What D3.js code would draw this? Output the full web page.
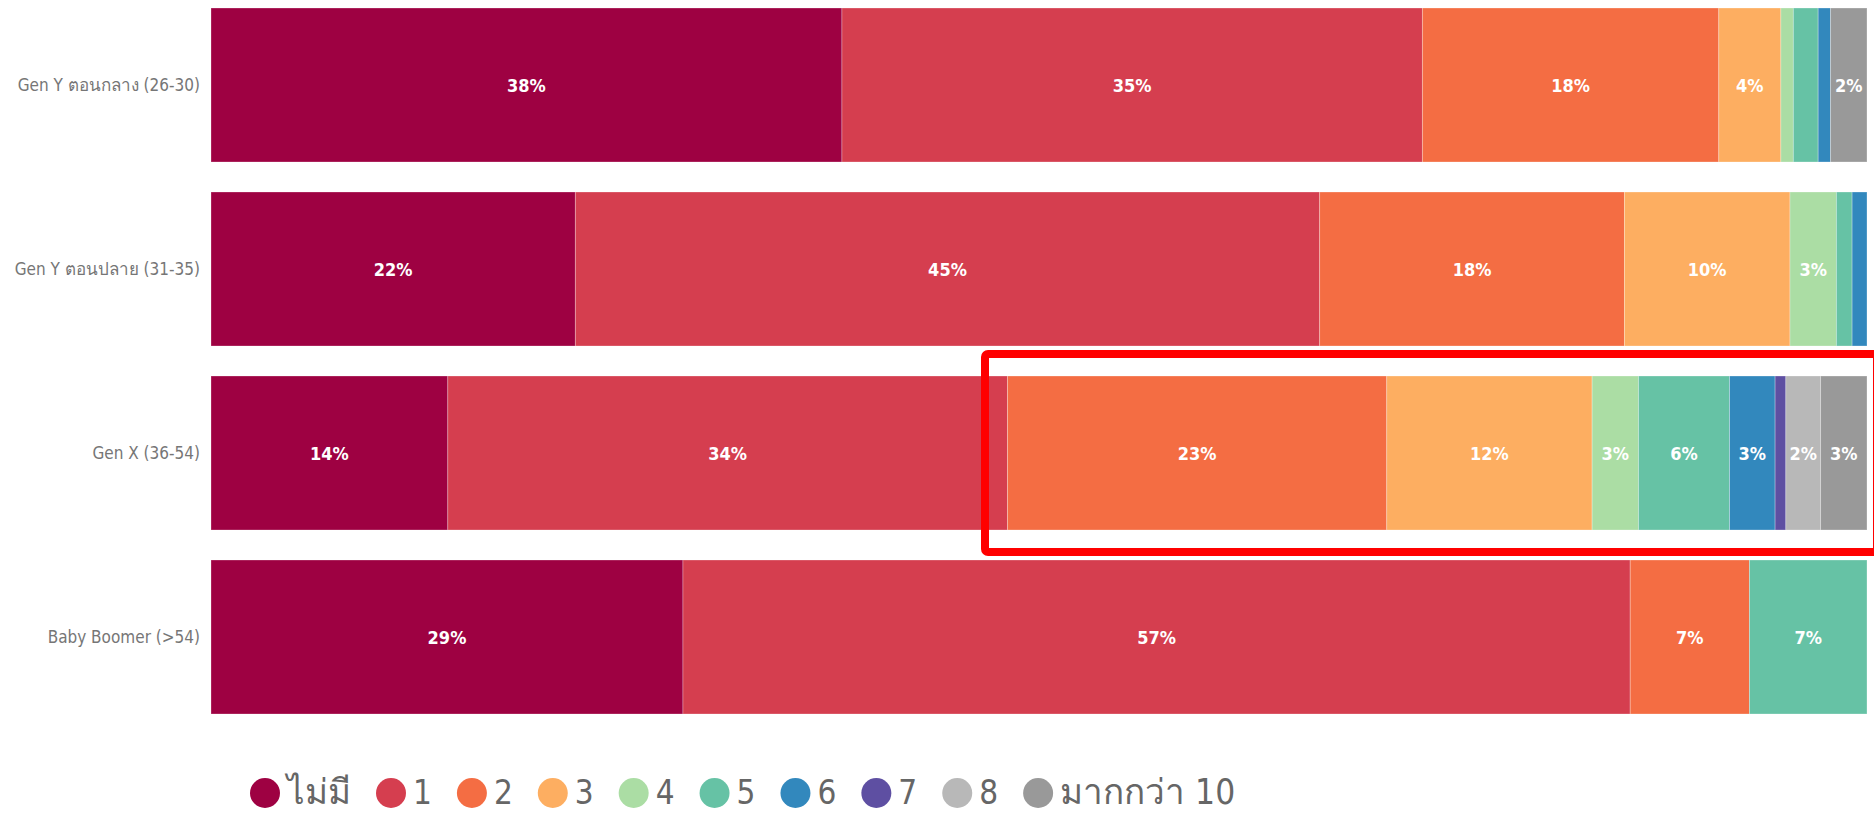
<!DOCTYPE html>
<html>
<head>
<meta charset="utf-8">
<script src="https://cdn.jsdelivr.net/npm/d3@7"></script>
<style>
  html, body { margin: 0; padding: 0; background: #fff; }
  svg { display: block; }
  .cat { font-family: "DejaVu Sans Condensed", "DejaVu Sans", sans-serif; font-size: 17px; fill: #767676; }
  .val { font-family: "DejaVu Sans Condensed", "DejaVu Sans", sans-serif; font-size: 18px; font-weight: bold; fill: #fff; }
  .leg { font-family: "DejaVu Sans Condensed", "DejaVu Sans", sans-serif; font-size: 33px; fill: #666; }
</style>
</head>
<body>
<svg id="chart" width="1874" height="815"></svg>
<script>
// Age groups (rows)
const categories = ["Gen Y ตอนกลาง (26-30)", "Gen Y ตอนปลาย (31-35)", "Gen X (36-54)", "Baby Boomer (>54)"];
// Series (legend order)
const seriesNames = ["ไม่มี", "1", "2", "3", "4", "5", "6", "7", "8", "มากกว่า 10"];
const seriesColors = ["#9e0142", "#d53e4f", "#f46d43", "#fdae61", "#abdda4", "#66c2a5", "#3288bd", "#5e4fa2", "#b8b8b8", "#999999"];
// Percent values per row, in series order
const genYMid  = [38.1, 35.05, 17.9, 3.75, 0.75, 1.5, 0.75, 0, 0, 2.2];
const genYLate = [22.0, 44.95, 18.4, 10.0, 2.8, 0.95, 0.9, 0, 0, 0];
const genX     = [14.3, 33.8, 22.9, 12.4, 2.8, 5.5, 2.75, 0.65, 2.1, 2.8];
const boomer   = [28.5, 57.2, 7.2, 0, 0, 7.1, 0, 0, 0, 0];
const rows = [genYMid, genYLate, genX, boomer];

const svg = d3.select("#chart");
const x = d3.scaleLinear().domain([0, 100]).range([211, 1867]);
const y = d3.scaleBand().domain(categories).range([8, 714]).paddingInner(30 / 184).paddingOuter(0);
const color = d3.scaleOrdinal().domain(seriesNames).range(seriesColors);

// build stacked data
const table = categories.map((c, i) => {
  const o = { cat: c };
  seriesNames.forEach((s, j) => o[s] = rows[i][j]);
  return o;
});
const stacked = d3.stack().keys(seriesNames)(table);

const gBars = svg.append("g");
stacked.forEach(layer => {
  const key = layer.key;
  layer.forEach(d => {
    const v = d[1] - d[0];
    if (v <= 0) return;
    gBars.append("rect")
      .attr("x", x(d[0]))
      .attr("y", y(d.data.cat))
      .attr("width", x(d[1]) - x(d[0]))
      .attr("height", y.bandwidth())
      .attr("fill", color(key))
      .attr("stroke", "rgba(255,255,255,0.35)")
      .attr("stroke-width", 0.8);
    if (v >= 1.95) {
      gBars.append("text")
        .attr("class", "val")
        .attr("x", (x(d[0]) + x(d[1])) / 2)
        .attr("y", y(d.data.cat) + y.bandwidth() / 2)
        .attr("text-anchor", "middle")
        .attr("dominant-baseline", "central")
        .text(Math.round(v) + "%");
    }
  });
});

// category labels
svg.append("g").selectAll("text").data(categories).join("text")
  .attr("class", "cat")
  .attr("x", 200)
  .attr("y", d => y(d) + y.bandwidth() / 2)
  .attr("text-anchor", "end")
  .attr("dominant-baseline", "central")
  .text(d => d);

// highlight box
svg.append("rect")
  .attr("x", 985).attr("y", 354)
  .attr("width", 1877 - 985).attr("height", 552 - 354)
  .attr("rx", 3)
  .attr("fill", "none").attr("stroke", "#ff0000").attr("stroke-width", 8);

// legend
const leg = svg.append("g");
const legY = 793;
let cx = 265;
const r = 15;
const isThai = s => /[\u0E00-\u0E7F]/.test(s);
seriesNames.forEach((s, i) => {
  leg.append("circle").attr("cx", cx).attr("cy", legY).attr("r", r).attr("fill", color(s));
  const t = leg.append("text").attr("class", "leg")
    .attr("x", cx + r + 7).attr("y", legY + 11)
    .style("font-size", isThai(s) ? "35px" : null)
    .text(s);
  const w = t.node().getComputedTextLength();
  cx = cx + r + 7 + w + 25 + r;
});
</script>
</body>
</html>
